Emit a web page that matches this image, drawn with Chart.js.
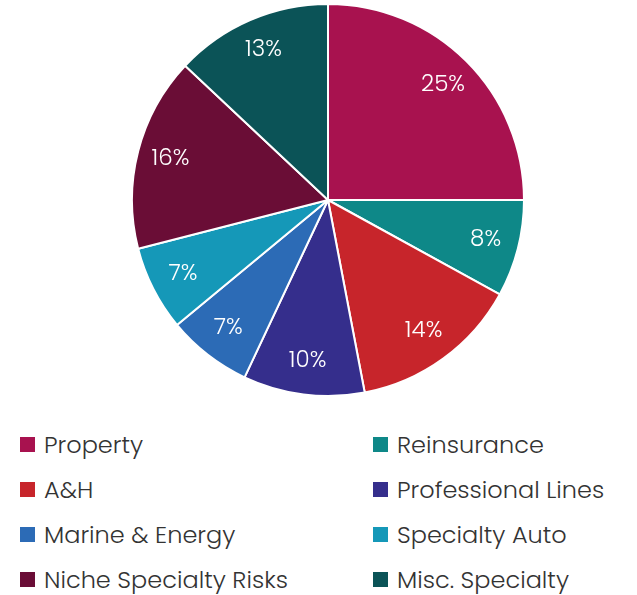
<!DOCTYPE html>
<html>
<head>
<meta charset="utf-8">
<script src="https://cdn.jsdelivr.net/npm/chart.js@4"></script>
<style>
  html, body { margin:0; padding:0; background:#fff; width:637px; height:595px; overflow:hidden; }
  #wrap { position:absolute; left:0; top:0; width:637px; height:397px; }
  #legend { position:absolute; left:0; top:422px; width:637px; font-family:"Poppins","Open Sans","Noto Sans",sans-serif; font-size:24px; font-weight:300; color:#333; }
  .item { position:absolute; height:45px; line-height:45px; white-space:nowrap; }
  .sw { position:absolute; top:15px; width:15px; height:15px; }
  .tx { position:absolute; }
</style>
</head>
<body>
<div id="wrap"><canvas id="c"></canvas></div>
<div id="legend"></div>
<script>
const categories = ["Property","Reinsurance","A&H","Professional Lines","Marine & Energy","Specialty Auto","Niche Specialty Risks","Misc. Specialty"];
const shares = [25, 8, 14, 10, 7, 7, 16, 13];
const colors = ["#A8124F","#0E8888","#C7252B","#352E8C","#2C6BB6","#1598B8","#6A0D36","#0B5357"];
const legendOrder = ["Property","Reinsurance","A&H","Professional Lines","Marine & Energy","Specialty Auto","Niche Specialty Risks","Misc. Specialty"];

const labelPlugin = {
  id: 'pctLabels',
  afterDatasetsDraw(chart) {
    const ctx = chart.ctx;
    const meta = chart.getDatasetMeta(0);
    ctx.save();
    ctx.fillStyle = '#fff';
    ctx.font = '300 23px "Poppins","Open Sans","Noto Sans",sans-serif';
    ctx.textAlign = 'center';
    ctx.textBaseline = 'middle';
    meta.data.forEach((arc, i) => {
      const p = arc.getProps(['x','y','startAngle','endAngle','outerRadius'], true);
      const mid = (p.startAngle + p.endAngle) / 2;
      const r = p.outerRadius * 0.83;
      ctx.fillText(shares[i] + '%', p.x + Math.cos(mid) * r, p.y + Math.sin(mid) * r);
    });
    ctx.restore();
  }
};

new Chart(document.getElementById('c'), {
  type: 'pie',
  data: {
    labels: categories,
    datasets: [{
      data: shares,
      backgroundColor: colors,
      borderColor: '#ffffff',
      borderWidth: 2,
      hoverOffset: 0
    }]
  },
  options: {
    responsive: true,
    maintainAspectRatio: false,
    animation: false,
    layout: { padding: { left: 19, right: 0, top: 3, bottom: 0 } },
    plugins: { legend: { display: false }, tooltip: { enabled: false } }
  },
  plugins: [labelPlugin]
});

const lg = document.getElementById('legend');
legendOrder.forEach((name, k) => {
  const i = categories.indexOf(name);
  const col = k % 2, row = Math.floor(k / 2);
  const it = document.createElement('div');
  it.className = 'item';
  it.style.top = (row * 45) + 'px';
  it.style.left = (col === 0 ? 20 : 373) + 'px';
  const sw = document.createElement('span');
  sw.className = 'sw';
  sw.style.left = '0px';
  sw.style.background = colors[i];
  const tx = document.createElement('span');
  tx.className = 'tx';
  tx.style.left = '24px';
  tx.textContent = name;
  it.appendChild(sw); it.appendChild(tx);
  lg.appendChild(it);
});
</script>
</body>
</html>
